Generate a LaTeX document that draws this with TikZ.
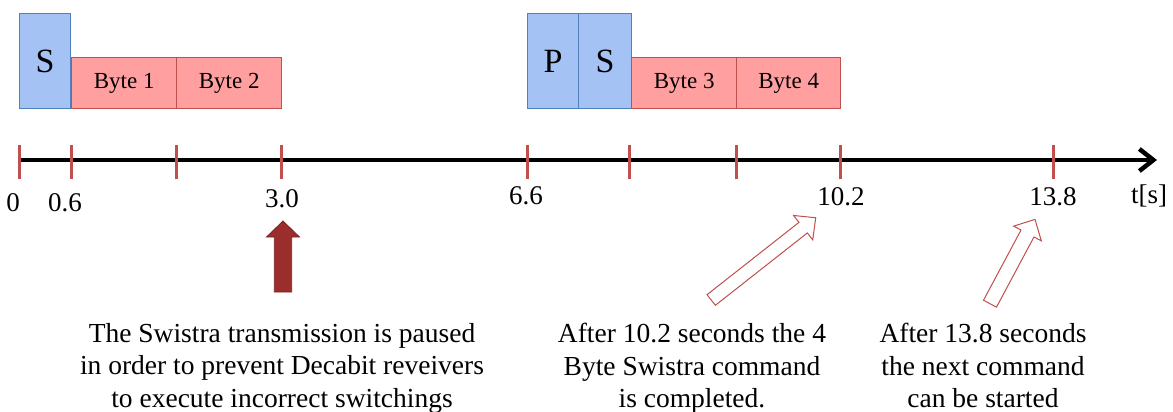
\documentclass[tikz,border=0pt]{standalone}
\usepackage{fontspec}
\setmainfont{Liberation Serif}
\usetikzlibrary{arrows.meta}
\definecolor{bluefill}{RGB}{164,194,244}
\definecolor{blueline}{RGB}{79,129,189}
\definecolor{pinkfill}{RGB}{255,159,159}
\definecolor{redline}{RGB}{192,80,77}
\definecolor{darkred}{RGB}{155,45,45}
\newcommand\blockarrow[8]{%
  \begin{scope}[shift={(#1,#2)},rotate=#3]
    \draw[#8] (0,{-#5/2}) -- ({#4-#7},{-#5/2}) -- ({#4-#7},{-#6/2}) -- (#4,0)
      -- ({#4-#7},{#6/2}) -- ({#4-#7},{#5/2}) -- (0,{#5/2}) -- cycle;
  \end{scope}}
\tikzset{
  bluebox/.style={draw=blueline,fill=bluefill,line width=1.3pt,inner sep=0pt,anchor=north west,
    minimum height=95pt,font=\fontsize{34}{40}\selectfont},
  pinkbox/.style={draw=redline,fill=pinkfill,line width=1.3pt,inner sep=0pt,anchor=north west,
    minimum height=51pt,font=\fontsize{23}{28}\selectfont},
  tick/.style={draw=redline,line width=3pt},
  axlabel/.style={inner sep=0pt,anchor=base,font=\fontsize{27}{32}\selectfont},
  note/.style={inner sep=0pt,anchor=north,align=center,font=\fontsize{27.5}{32.5}\selectfont},
}
\begin{document}
\begin{tikzpicture}[x=1pt,y=-1pt]
\useasboundingbox (0,0) rectangle (1173,412);
% boxes
\node[bluebox,minimum width=51pt] (s1) at (19,13) {S};
\node[pinkbox,minimum width=105pt] (b1) at (71,57) {Byte 1};
\node[pinkbox,minimum width=105pt] (b2) at (176,57) {Byte 2};
\node[bluebox,minimum width=51pt] (p2) at (527,13) {P};
\node[bluebox,minimum width=53pt] (s2) at (578,13) {S};
\node[pinkbox,minimum width=105pt] (b3) at (631,57) {Byte 3};
\node[pinkbox,minimum width=104pt] (b4) at (736,57) {Byte 4};
% axis
\coordinate (a0) at (19,160);
\coordinate (a1) at (1157,160);
\draw[line width=4.5pt,-{Straight Barb[length=14pt,width=22pt]}] (a0) -- (a1);
\foreach \x in {19,71,176,281,527,629,736,840,1053}
  \draw[tick] (\x,145) -- (\x,179);
% axis labels
\node[axlabel] (l0) at (13,211) {0};
\node[axlabel] (l06) at (65,211) {0.6};
\node[axlabel] (l30) at (282,207) {3.0};
\node[axlabel] (l66) at (526,204) {6.6};
\node[axlabel] (l102) at (841,205) {10.2};
\node[axlabel] (l138) at (1053,205) {13.8};
\node[axlabel] (lt) at (1149,203) {t[s]};
% arrows
\blockarrow{283}{292}{90}{71}{17.4}{33}{16}{draw=darkred!80!black,fill=darkred,line width=0.8pt}
\blockarrow{711.2}{300}{38.2}{133}{13.5}{31}{16}{draw=redline,fill=white,line width=1pt}
\blockarrow{990}{303.7}{61.9}{95.6}{14.7}{31.3}{16}{draw=redline,fill=white,line width=1pt}
% notes
\node[note] (n1) at (282,323) {The Swistra transmission is paused\\in order to prevent Decabit reveivers\\to execute incorrect switchings};
\node[note] (n2) at (692,323) {After 10.2 seconds the 4\\Byte Swistra command\\is completed.};
\node[note] (n3) at (983,323) {After 13.8 seconds\\the next command\\can be started};
\end{tikzpicture}
\end{document}
